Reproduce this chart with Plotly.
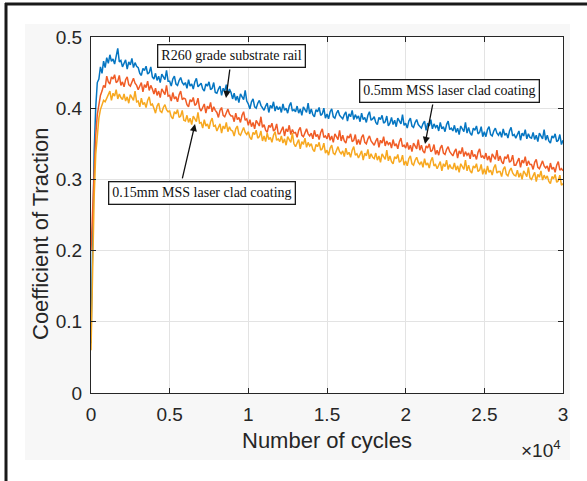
import plotly.graph_objects as go

# Sample positions: number of cycles (every 100 cycles)
cycles = list(range(0, 30001, 100))

r260_substrate = [
    0.070, 0.205, 0.338, 0.401, 0.436, 0.441, 0.458, 0.449, 0.466, 0.457,
    0.471, 0.463, 0.475, 0.466, 0.469, 0.462, 0.472, 0.484, 0.465, 0.467,
    0.458, 0.464, 0.468, 0.455, 0.465, 0.461, 0.470, 0.457, 0.464, 0.459,
    0.457, 0.449, 0.446, 0.456, 0.453, 0.459, 0.448, 0.450, 0.458, 0.444,
    0.441, 0.449, 0.439, 0.445, 0.436, 0.448, 0.444, 0.440, 0.453, 0.438,
    0.438, 0.431, 0.441, 0.445, 0.434, 0.432, 0.439, 0.443, 0.436, 0.433,
    0.436, 0.428, 0.440, 0.431, 0.434, 0.427, 0.437, 0.442, 0.430, 0.432,
    0.435, 0.427, 0.424, 0.434, 0.431, 0.437, 0.426, 0.428, 0.436, 0.422,
    0.421, 0.427, 0.431, 0.418, 0.428, 0.424, 0.433, 0.420, 0.427, 0.422,
    0.413, 0.421, 0.411, 0.417, 0.408, 0.420, 0.416, 0.412, 0.425, 0.410,
    0.406, 0.399, 0.409, 0.413, 0.402, 0.400, 0.407, 0.411, 0.404, 0.401,
    0.397, 0.403, 0.407, 0.394, 0.404, 0.400, 0.409, 0.396, 0.403, 0.398,
    0.402, 0.394, 0.406, 0.397, 0.400, 0.393, 0.403, 0.408, 0.396, 0.398,
    0.395, 0.403, 0.393, 0.399, 0.390, 0.402, 0.398, 0.394, 0.407, 0.392,
    0.399, 0.391, 0.388, 0.398, 0.395, 0.401, 0.390, 0.392, 0.400, 0.386,
    0.392, 0.385, 0.395, 0.399, 0.388, 0.386, 0.393, 0.397, 0.390, 0.387,
    0.385, 0.391, 0.395, 0.382, 0.392, 0.388, 0.397, 0.384, 0.391, 0.386,
    0.389, 0.381, 0.393, 0.384, 0.387, 0.380, 0.390, 0.395, 0.383, 0.385,
    0.388, 0.380, 0.377, 0.387, 0.384, 0.390, 0.379, 0.381, 0.389, 0.375,
    0.379, 0.387, 0.377, 0.383, 0.374, 0.386, 0.382, 0.378, 0.391, 0.376,
    0.379, 0.372, 0.382, 0.386, 0.375, 0.373, 0.380, 0.384, 0.377, 0.374,
    0.372, 0.378, 0.382, 0.369, 0.379, 0.375, 0.384, 0.371, 0.378, 0.373,
    0.376, 0.368, 0.380, 0.371, 0.374, 0.367, 0.377, 0.382, 0.370, 0.372,
    0.368, 0.376, 0.366, 0.372, 0.363, 0.375, 0.371, 0.367, 0.380, 0.365,
    0.373, 0.365, 0.362, 0.372, 0.369, 0.375, 0.364, 0.366, 0.374, 0.360,
    0.367, 0.360, 0.370, 0.374, 0.363, 0.361, 0.368, 0.372, 0.365, 0.362,
    0.367, 0.359, 0.371, 0.362, 0.365, 0.358, 0.368, 0.373, 0.361, 0.363,
    0.358, 0.364, 0.368, 0.355, 0.365, 0.361, 0.370, 0.357, 0.364, 0.359,
    0.358, 0.366, 0.356, 0.362, 0.353, 0.365, 0.361, 0.357, 0.370, 0.355,
    0.362, 0.354, 0.351, 0.361, 0.358, 0.364, 0.353, 0.355, 0.363, 0.349,
    0.355,
]

mss_05mm = [
    0.200, 0.262, 0.318, 0.362, 0.391, 0.405, 0.418, 0.424, 0.432, 0.429,
    0.445, 0.437, 0.434, 0.444, 0.441, 0.447, 0.436, 0.438, 0.446, 0.432,
    0.437, 0.430, 0.440, 0.444, 0.433, 0.431, 0.438, 0.442, 0.435, 0.432,
    0.426, 0.432, 0.436, 0.423, 0.433, 0.429, 0.438, 0.425, 0.432, 0.427,
    0.420, 0.428, 0.418, 0.424, 0.415, 0.427, 0.423, 0.419, 0.432, 0.417,
    0.418, 0.410, 0.422, 0.413, 0.416, 0.409, 0.419, 0.424, 0.412, 0.414,
    0.413, 0.405, 0.402, 0.412, 0.409, 0.415, 0.404, 0.406, 0.414, 0.400,
    0.396, 0.402, 0.406, 0.393, 0.403, 0.399, 0.408, 0.395, 0.402, 0.397,
    0.394, 0.387, 0.397, 0.401, 0.390, 0.388, 0.395, 0.399, 0.392, 0.389,
    0.389, 0.381, 0.393, 0.384, 0.387, 0.380, 0.390, 0.395, 0.383, 0.385,
    0.376, 0.384, 0.374, 0.380, 0.371, 0.383, 0.379, 0.375, 0.388, 0.373,
    0.377, 0.369, 0.366, 0.376, 0.373, 0.379, 0.368, 0.370, 0.378, 0.364,
    0.364, 0.370, 0.374, 0.361, 0.371, 0.367, 0.376, 0.363, 0.370, 0.365,
    0.366, 0.359, 0.369, 0.373, 0.362, 0.360, 0.367, 0.371, 0.364, 0.361,
    0.365, 0.357, 0.369, 0.360, 0.363, 0.356, 0.366, 0.371, 0.359, 0.361,
    0.357, 0.365, 0.355, 0.361, 0.352, 0.364, 0.360, 0.356, 0.369, 0.354,
    0.362, 0.354, 0.351, 0.361, 0.358, 0.364, 0.353, 0.355, 0.363, 0.349,
    0.356, 0.349, 0.359, 0.363, 0.352, 0.350, 0.357, 0.361, 0.354, 0.351,
    0.348, 0.354, 0.358, 0.345, 0.355, 0.351, 0.360, 0.347, 0.354, 0.349,
    0.352, 0.344, 0.356, 0.347, 0.350, 0.343, 0.353, 0.358, 0.346, 0.348,
    0.344, 0.352, 0.342, 0.348, 0.339, 0.351, 0.347, 0.343, 0.356, 0.341,
    0.348, 0.340, 0.337, 0.347, 0.344, 0.350, 0.339, 0.341, 0.349, 0.335,
    0.341, 0.334, 0.344, 0.348, 0.337, 0.335, 0.342, 0.346, 0.339, 0.336,
    0.333, 0.339, 0.343, 0.330, 0.340, 0.336, 0.345, 0.332, 0.339, 0.334,
    0.337, 0.329, 0.341, 0.332, 0.335, 0.328, 0.338, 0.343, 0.331, 0.333,
    0.329, 0.337, 0.327, 0.333, 0.324, 0.336, 0.332, 0.328, 0.341, 0.326,
    0.333, 0.325, 0.322, 0.332, 0.329, 0.335, 0.324, 0.326, 0.334, 0.320,
    0.320, 0.326, 0.330, 0.317, 0.327, 0.323, 0.332, 0.319, 0.326, 0.321,
    0.321, 0.314, 0.324, 0.328, 0.317, 0.315, 0.322, 0.326, 0.319, 0.316,
    0.319, 0.311, 0.323, 0.314, 0.317, 0.310, 0.320, 0.325, 0.313, 0.315,
    0.312,
]

mss_015mm = [
    0.060, 0.180, 0.275, 0.335, 0.368, 0.386, 0.398, 0.404, 0.411, 0.409,
    0.414, 0.420, 0.424, 0.411, 0.421, 0.417, 0.426, 0.413, 0.420, 0.415,
    0.412, 0.420, 0.410, 0.416, 0.407, 0.419, 0.415, 0.411, 0.424, 0.409,
    0.410, 0.402, 0.414, 0.405, 0.408, 0.401, 0.411, 0.416, 0.404, 0.406,
    0.400, 0.393, 0.403, 0.407, 0.396, 0.394, 0.401, 0.405, 0.398, 0.395,
    0.396, 0.388, 0.385, 0.395, 0.392, 0.398, 0.387, 0.389, 0.397, 0.383,
    0.382, 0.390, 0.380, 0.386, 0.377, 0.389, 0.385, 0.381, 0.394, 0.379,
    0.380, 0.372, 0.384, 0.375, 0.378, 0.371, 0.381, 0.386, 0.374, 0.376,
    0.368, 0.374, 0.378, 0.365, 0.375, 0.371, 0.380, 0.367, 0.374, 0.369,
    0.368, 0.361, 0.371, 0.375, 0.364, 0.362, 0.369, 0.373, 0.366, 0.363,
    0.367, 0.359, 0.356, 0.366, 0.363, 0.369, 0.358, 0.360, 0.368, 0.354,
    0.361, 0.353, 0.365, 0.356, 0.359, 0.352, 0.362, 0.367, 0.355, 0.357,
    0.353, 0.361, 0.351, 0.357, 0.348, 0.360, 0.356, 0.352, 0.365, 0.350,
    0.346, 0.352, 0.356, 0.343, 0.353, 0.349, 0.358, 0.345, 0.352, 0.347,
    0.350, 0.342, 0.339, 0.349, 0.346, 0.352, 0.341, 0.343, 0.351, 0.337,
    0.341, 0.334, 0.344, 0.348, 0.337, 0.335, 0.342, 0.346, 0.339, 0.336,
    0.340, 0.332, 0.344, 0.335, 0.338, 0.331, 0.341, 0.346, 0.334, 0.336,
    0.330, 0.336, 0.340, 0.327, 0.337, 0.333, 0.342, 0.329, 0.336, 0.331,
    0.329, 0.337, 0.327, 0.333, 0.324, 0.336, 0.332, 0.328, 0.341, 0.326,
    0.333, 0.325, 0.322, 0.332, 0.329, 0.335, 0.324, 0.326, 0.334, 0.320,
    0.326, 0.319, 0.329, 0.333, 0.322, 0.320, 0.327, 0.331, 0.324, 0.321,
    0.325, 0.317, 0.329, 0.320, 0.323, 0.316, 0.326, 0.331, 0.319, 0.321,
    0.315, 0.321, 0.325, 0.312, 0.322, 0.318, 0.327, 0.314, 0.321, 0.316,
    0.315, 0.323, 0.313, 0.319, 0.310, 0.322, 0.318, 0.314, 0.327, 0.312,
    0.320, 0.312, 0.309, 0.319, 0.316, 0.322, 0.311, 0.313, 0.321, 0.307,
    0.315, 0.307, 0.319, 0.310, 0.313, 0.306, 0.316, 0.321, 0.309, 0.311,
    0.311, 0.304, 0.314, 0.318, 0.307, 0.305, 0.312, 0.316, 0.309, 0.306,
    0.305, 0.313, 0.303, 0.309, 0.300, 0.312, 0.308, 0.304, 0.317, 0.302,
    0.300, 0.306, 0.310, 0.297, 0.307, 0.303, 0.312, 0.299, 0.306, 0.301,
    0.305, 0.297, 0.294, 0.304, 0.301, 0.307, 0.296, 0.298, 0.306, 0.292,
    0.294,
]

series_names = ["R260 grade substrate rail", "0.5mm MSS laser clad coating",
                "0.15mm MSS laser clad coating"]
series_colors = ["#0576c2", "#f05c26", "#f7a81f"]

x_tick_vals = [0, 5000, 10000, 15000, 20000, 25000, 30000]
x_tick_text = ["0", "0.5", "1", "1.5", "2", "2.5", "3"]
y_tick_vals = [0, 0.1, 0.2, 0.3, 0.4, 0.5]
y_tick_text = ["0", "0.1", "0.2", "0.3", "0.4", "0.5"]

# plot-area geometry in pixels
L, R, T, B = 91, 563, 37, 393
PW, PH = R - L, B - T


def px(xp):
    return (xp - L) / PW


def py(yp):
    return (B - yp) / PH


fig = go.Figure()
for name, vals, col in zip(series_names, [r260_substrate, mss_05mm, mss_015mm], series_colors):
    fig.add_trace(go.Scatter(x=cycles, y=vals, mode="lines", name=name,
                             line=dict(color=col, width=1.5)))

axis_common = dict(showline=True, linecolor="#262626", linewidth=1, mirror="ticks",
                   ticks="inside", ticklen=5, tickcolor="#262626", automargin=False,
                   showgrid=True, gridcolor="#e3e3e3", gridwidth=1, zeroline=False,
                   tickfont=dict(family="Liberation Sans, Arial", size=19, color="#262626"))

fig.update_xaxes(range=[0, 30000], tickvals=x_tick_vals, ticktext=x_tick_text,
                 ticklabelstandoff=4, **axis_common)
fig.update_yaxes(range=[0, 0.5], tickvals=y_tick_vals, ticktext=y_tick_text,
                 ticklabelstandoff=4, **axis_common)

title_font = dict(family="Liberation Sans, Arial", size=22, color="#262626")
fig.add_annotation(x=0.5, y=py(440), xref="paper", yref="paper", text="Number of cycles",
                   showarrow=False, xanchor="center", yanchor="middle", font=title_font)
fig.add_annotation(x=px(40), y=py(234), xref="paper", yref="paper",
                   text="Coefficient of Traction", textangle=-90,
                   showarrow=False, xanchor="center", yanchor="middle", font=title_font)
# x10^4 exponent label
fig.add_annotation(x=px(563), y=py(449), xref="paper", yref="paper", text="\u00d710<sup>4</sup>",
                   showarrow=False, xanchor="right", yanchor="middle",
                   font=dict(family="Liberation Sans, Arial", size=19, color="#262626"))

box_font = dict(family="Liberation Serif, Times New Roman", size=14, color="#111111")
boxes = [
    ("R260 grade substrate rail", 8898, 0.474),
    ("0.5mm MSS laser clad coating", 22786, 0.4242),
    ("0.15mm MSS laser clad coating", 7055, 0.2809),
]
for txt, bx, by in boxes:
    fig.add_annotation(x=bx, y=by, xref="x", yref="y", text=txt, showarrow=False,
                       font=box_font, bgcolor="white", bordercolor="#1a1a1a",
                       borderwidth=1.3, borderpad=3, xanchor="center", yanchor="middle")

arrows = [
    (8835, 0.4565, 8581, 0.4143),
    (21737, 0.4073, 21229, 0.3497),
    (5784, 0.2992, 6610, 0.3778),
]
for tx, ty, hx, hy in arrows:
    fig.add_annotation(x=hx, y=hy, ax=tx, ay=ty, xref="x", yref="y", axref="x", ayref="y",
                       text="", showarrow=True, arrowhead=2, arrowsize=1.1,
                       arrowwidth=1.3, arrowcolor="#111111", standoff=0, startstandoff=0)

W, H = 587, 481
GRAY = "#f7f7f7"


def rect(x0, x1, y0, y1):
    return dict(type="rect", xref="paper", yref="paper", layer="below",
                x0=px(x0), x1=px(x1), y0=py(y1), y1=py(y0),
                fillcolor=GRAY, line=dict(width=0))


shapes = [
    # faint figure background around the axes
    rect(25, 570, 24, T),
    rect(25, 570, B, 460),
    rect(25, L, T, B),
    rect(R, 570, T, B),
    # left and top frame lines
    dict(type="line", xref="paper", yref="paper",
         x0=px(6), x1=px(6), y0=py(481), y1=py(3),
         line=dict(color="#1a1a1a", width=3)),
    dict(type="line", xref="paper", yref="paper",
         x0=px(5), x1=px(587), y0=py(4), y1=py(4),
         line=dict(color="#1a1a1a", width=3)),
]

fig.update_layout(width=W, height=H, margin=dict(l=L, r=W - R, t=T, b=H - B),
                  paper_bgcolor="white", plot_bgcolor="white", showlegend=False,
                  shapes=shapes)

fig.write_html("out.html", config={"displayModeBar": False},
               post_script="document.body.style.margin='0';document.body.style.padding='0';")
